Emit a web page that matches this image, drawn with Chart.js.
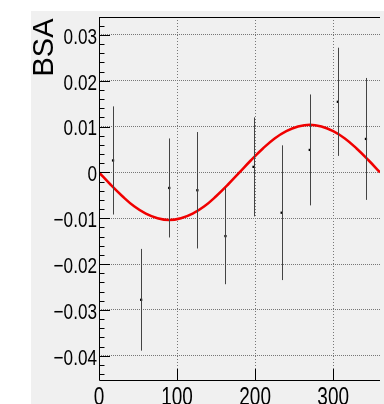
<!DOCTYPE html>
<html>
<head>
<meta charset="utf-8">
<script src="https://cdn.jsdelivr.net/npm/chart.js@4.4.0/dist/chart.umd.min.js"></script>
<style>
  html, body { margin: 0; padding: 0; background: #fff; }
  #wrap { width: 384px; height: 404px; }
</style>
</head>
<body>
<div id="wrap"><canvas id="bsaChart" width="384" height="404"></canvas></div>
<script>
// measured asymmetry per phi bin (deg)
const binCenters = [18, 54, 90, 126, 162, 198, 234, 270, 306, 342];
const bsaValues = [0.0026, -0.0278, -0.0034, -0.0039, -0.0139, 0.0012, -0.0088, 0.0049, 0.0154, 0.0073];
const bsaErrors = [0.0118, 0.0111, 0.0108, 0.0127, 0.0105, 0.0108, 0.0147, 0.0121, 0.0118, 0.0133];

// fitted curve
const fitPhi = [0, 15, 30, 45, 60, 75, 90, 105, 120, 135, 150, 165, 180,
  195, 210, 225, 240, 255, 270, 285, 300, 315, 330, 345, 360];
const fitValues = [0, -0.0027, -0.0052, -0.0074, -0.009, -0.01, -0.0104, -0.01, -0.009, -0.0074, -0.0052, -0.0027, 0,
  0.0027, 0.0052, 0.0074, 0.009, 0.01, 0.0104, 0.01, 0.009, 0.0074, 0.0052, 0.0027, 0];

const xTicks = [0, 100, 200, 300];
const yTicks = [0.03, 0.02, 0.01, 0, -0.01, -0.02, -0.03, -0.04];
const yMinorTicks = [0.032, 0.028, 0.026, 0.024, 0.022, 0.018, 0.016, 0.014, 0.012,
  0.008, 0.006, 0.004, 0.002, -0.002, -0.004, -0.006, -0.008, -0.012, -0.014, -0.016, -0.018,
  -0.022, -0.024, -0.026, -0.028, -0.032, -0.034, -0.036, -0.038, -0.042, -0.044];

const font = "'Liberation Sans', Arial, sans-serif";

function fmtY(v) {
  if (Math.abs(v) < 1e-9) return "0";
  const s = Math.abs(v).toFixed(2);
  return v < 0 ? "\u2212" + s : s;
}

// narrow text like the ROOT helvetica labels
function narrowText(c, text, x, y, size, sx, align) {
  c.save();
  c.font = size + "px " + font;
  c.textAlign = align;
  c.textBaseline = "alphabetic";
  c.translate(x, y);
  c.scale(sx, 1);
  c.fillText(text, 0, 0);
  c.restore();
}

// pad colours, y title and tick labels
const padPlugin = {
  id: "pad",
  beforeDraw(chart) {
    const c = chart.ctx;
    c.save();
    c.fillStyle = "#fff";
    c.fillRect(0, 0, chart.width, chart.height);
    c.fillStyle = "#f0f0f0";
    c.fillRect(31, 11, chart.width - 31, chart.height - 11);
    c.restore();
  },
  afterDraw(chart) {
    const c = chart.ctx;
    const xs = chart.scales.x, ys = chart.scales.y;
    const a = chart.chartArea;
    c.save();
    c.fillStyle = "#000";
    yTicks.forEach(v => {
      narrowText(c, fmtY(v), a.left - 2, ys.getPixelForValue(v) + 8.8, 22, 0.78, "right");
    });
    xTicks.forEach(v => {
      narrowText(c, String(v), xs.getPixelForValue(v), a.bottom + 25, 25, 0.76, "center");
    });
    c.translate(43.5, 47.5);
    c.rotate(-Math.PI / 2);
    c.font = "29px " + font;
    c.textAlign = "center";
    c.textBaseline = "middle";
    c.fillText("BSA", 0, 1);
    c.restore();
  }
};

// error bars, frame and ROOT-style inner ticks
const framePlugin = {
  id: "frame",
  afterDatasetsDraw(chart) {
    const c = chart.ctx;
    const xs = chart.scales.x, ys = chart.scales.y;
    const a = chart.chartArea;
    c.save();
    c.strokeStyle = "#444";
    c.lineWidth = 1;
    binCenters.forEach((phi, i) => {
      const px = Math.round(xs.getPixelForValue(phi)) + 0.5;
      c.beginPath();
      c.moveTo(px, ys.getPixelForValue(bsaValues[i] + bsaErrors[i]));
      c.lineTo(px, ys.getPixelForValue(bsaValues[i] - bsaErrors[i]));
      c.stroke();
    });

    c.strokeStyle = "#000";
    c.beginPath();
    c.moveTo(a.left + 0.5, a.top);
    c.lineTo(a.left + 0.5, a.bottom + 0.5);
    c.lineTo(a.right, a.bottom + 0.5);
    c.moveTo(a.left, a.top + 0.5);
    c.lineTo(a.right, a.top + 0.5);
    yTicks.forEach(v => {
      const py = Math.round(ys.getPixelForValue(v)) + 0.5;
      c.moveTo(a.left, py);
      c.lineTo(a.left + 11, py);
    });
    yMinorTicks.forEach(v => {
      const py = Math.round(ys.getPixelForValue(v)) + 0.5;
      c.moveTo(a.left, py);
      c.lineTo(a.left + 5.5, py);
    });
    xTicks.forEach(v => {
      const px = Math.round(xs.getPixelForValue(v)) + 0.5;
      c.moveTo(px, a.bottom);
      c.lineTo(px, a.bottom - 11);
    });
    c.stroke();
    c.restore();
  }
};

const ctx = document.getElementById("bsaChart");
new Chart(ctx, {
  type: "scatter",
  data: {
    datasets: [
      {
        label: "fit",
        data: fitPhi.map((p, i) => ({ x: p, y: fitValues[i] })),
        showLine: true,
        borderColor: "#f00000",
        borderWidth: 2.5,
        pointRadius: 0,
        tension: 0.4,
        fill: false,
        order: 1
      },
      {
        label: "BSA",
        data: binCenters.map((p, i) => ({ x: p, y: bsaValues[i] })),
        pointStyle: "rect",
        pointRadius: 1.6,
        backgroundColor: "#000",
        borderColor: "#000",
        borderWidth: 0,
        order: 0
      }
    ]
  },
  options: {
    responsive: false,
    animation: false,
    layout: { padding: { top: 17, right: 1, left: 0, bottom: 0 } },
    plugins: {
      legend: { display: false },
      tooltip: { enabled: false }
    },
    scales: {
      x: {
        type: "linear",
        min: 0,
        max: 360,
        afterBuildTicks: s => { s.ticks = xTicks.map(v => ({ value: v })); },
        afterFit: s => { s.height = 24; },
        grid: { color: "#777", lineWidth: 1, drawTicks: false },
        border: { display: false, dash: [1, 2] },
        ticks: { display: false }
      },
      y: {
        type: "linear",
        min: -0.0453,
        max: 0.0339,
        afterBuildTicks: s => { s.ticks = yTicks.map(v => ({ value: v })); },
        afterFit: s => { s.width = 99; },
        grid: { color: "#777", lineWidth: 1, drawTicks: false },
        border: { display: false, dash: [1, 1] },
        ticks: { display: false }
      }
    }
  },
  plugins: [padPlugin, framePlugin]
});
</script>
</body>
</html>
